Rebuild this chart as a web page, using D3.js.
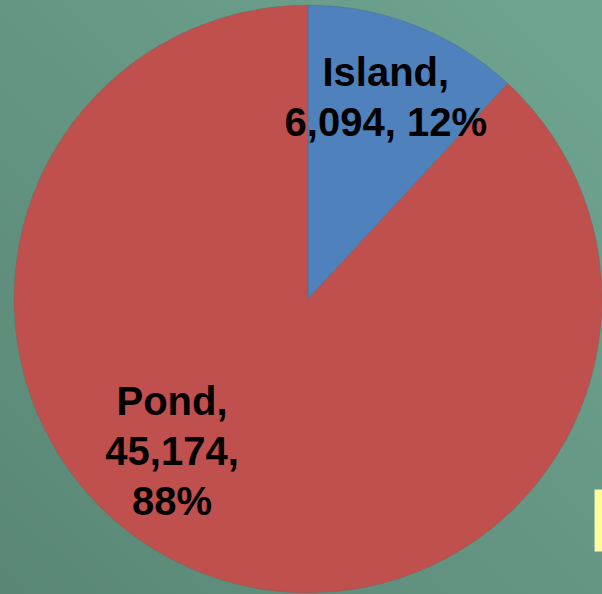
<!DOCTYPE html>
<html><head><meta charset="utf-8">
<script src="https://cdn.jsdelivr.net/npm/d3@7"></script>
<style>html,body{margin:0;padding:0;overflow:hidden;background:#62937f}</style>
</head><body>
<script>
const categories = ["Island", "Pond"];
const values = [6094, 45174];
const percents = ["12%", "88%"];
const colors = ["#4F81BD", "#C0504D"];

const W = 602, H = 594;
const svg = d3.select("body").append("svg").attr("width", W).attr("height", H);
const defs = svg.append("defs");
const g = defs.append("linearGradient").attr("id","bg").attr("x1","1").attr("y1","0").attr("x2","0").attr("y2","1");
g.append("stop").attr("offset","0").attr("stop-color","#6FA591");
g.append("stop").attr("offset","1").attr("stop-color","#5A8775");
svg.append("rect").attr("width",W).attr("height",H).attr("fill","url(#bg)");

const cx = 308, cy = 299, R = 294;
const pie = d3.pie().sort(null).value(d => d.v);
const data = categories.map((c,i)=>({c, v: values[i], p: percents[i], col: colors[i]}));
const arcs = pie(data);
const arc = d3.arc().innerRadius(0).outerRadius(R);
const gp = svg.append("g").attr("transform", `translate(${cx},${cy})`);
gp.selectAll("path").data(arcs).join("path")
  .attr("d", arc).attr("fill", d => d.data.col)
  .attr("stroke", "#4d6e63").attr("stroke-width", 0.6).attr("stroke-opacity", 0.5);

const fmt = d3.format(",");
// label placement (angle in radians from 12 o'clock, radius factor)
const labelPos = [{a: 21.1, r: 0.735, lines: d => [d.c + ",", fmt(d.v) + ", " + d.p]},
                  {a: 221.8, r: 0.694, lines: d => [d.c + ",", fmt(d.v) + ",", d.p]}];
const lh = 50;
arcs.forEach((d,i) => {
  const lp = labelPos[i];
  const ang = lp.a * Math.PI/180;
  const x = Math.sin(ang) * lp.r * R, y = -Math.cos(ang) * lp.r * R;
  const lines = lp.lines(d.data);
  const t = gp.append("text").attr("x", x).attr("y", y)
    .attr("text-anchor","middle")
    .style("font-family","'Liberation Sans', Arial, sans-serif")
    .style("font-weight","bold").style("font-size","40px").attr("fill","#000");
  lines.forEach((ln, k) => {
    t.append("tspan").attr("x", x)
      .attr("y", y + (k - (lines.length-1)/2) * lh + 14)
      .text(ln);
  });
});

svg.append("rect").attr("x",595).attr("y",490).attr("width",10).attr("height",61)
  .attr("fill","#FFFF99").attr("stroke","#f4f4c0").attr("stroke-width",1);
</script>
</body></html>
